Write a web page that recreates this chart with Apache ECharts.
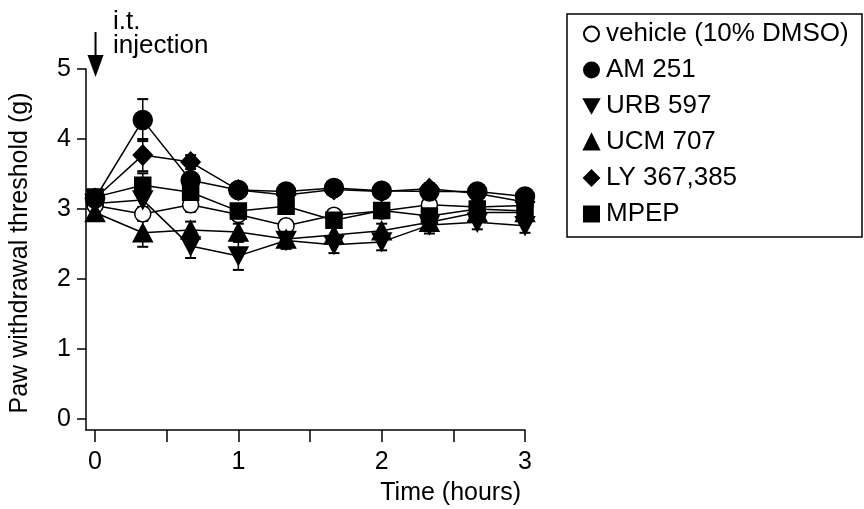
<!DOCTYPE html>
<html>
<head>
<meta charset="utf-8">
<script src="https://cdn.jsdelivr.net/npm/echarts@6/dist/echarts.min.js"></script>
<style>
html,body{margin:0;padding:0;background:#fff;}
#chart{width:864px;height:509px;}
</style>
</head>
<body>
<div id="chart"></div>
<script>
// ---- data ----
const times = [0, 0.333, 0.667, 1, 1.333, 1.667, 2, 2.333, 2.667, 3];
const seriesNames = ['vehicle (10% DMSO)', 'AM 251', 'URB 597', 'UCM 707', 'LY 367,385', 'MPEP'];
const vehicle = [3.05, 2.93, 3.06, 2.92, 2.76, 2.91, 2.97, 3.06, 3.03, 3.05];
const am251   = [3.15, 4.27, 3.41, 3.27, 3.25, 3.30, 3.26, 3.25, 3.25, 3.18];
const urb597  = [3.08, 3.13, 2.47, 2.33, 2.55, 2.49, 2.53, 2.77, 2.81, 2.76];
const ucm707  = [2.95, 2.66, 2.70, 2.67, 2.57, 2.63, 2.69, 2.81, 2.95, 2.95];
const ly      = [3.15, 3.77, 3.67, 3.27, 3.20, 3.28, 3.25, 3.29, 3.22, 3.10];
const mpep    = [3.17, 3.34, 3.24, 2.97, 3.04, 2.84, 2.98, 2.90, 3.00, 2.97];
const vehicleErr = [0.08, 0.10, 0.10, 0.08, 0.08, 0.08, 0.08, 0.10, 0.08, 0.08];
const am251Err   = [0.08, 0.30, 0.10, 0.08, 0.08, 0.08, 0.08, 0.08, 0.08, 0.08];
const urb597Err  = [0.08, 0.12, 0.17, 0.20, 0.12, 0.12, 0.12, 0.12, 0.10, 0.10];
const ucm707Err  = [0.08, 0.20, 0.12, 0.12, 0.12, 0.10, 0.10, 0.10, 0.08, 0.08];
const lyErr      = [0.08, 0.23, 0.10, 0.08, 0.08, 0.08, 0.08, 0.08, 0.08, 0.08];
const mpepErr    = [0.08, 0.17, 0.10, 0.08, 0.08, 0.08, 0.08, 0.08, 0.08, 0.08];
const xTicks = [0, 0.5, 1, 1.5, 2, 2.5, 3];
const xLabels = [0, 1, 2, 3];
const yTicks = [0, 1, 2, 3, 4, 5];
const xTitle = 'Time (hours)';
const yTitle = 'Paw withdrawal threshold (g)';
const noteLines = ['i.t.', 'injection'];

// ---- styling ----
const FONT = '"Liberation Sans", Arial, Helvetica, sans-serif';
const FS = 25;
const downTri = 'path://M0,0L20,0L10,18Z';
const styles = [
  {symbol: 'circle', size: 16, legendIcon: 'circle', fill: '#fff'},
  {symbol: 'circle', size: 19, legendIcon: 'circle', fill: '#000'},
  {symbol: downTri, size: [19, 18], legendIcon: downTri, fill: '#000'},
  {symbol: 'triangle', size: [19, 18], legendIcon: 'triangle', fill: '#000'},
  {symbol: 'diamond', size: [19, 20], legendIcon: 'diamond', fill: '#000'},
  {symbol: 'rect', size: 16, legendIcon: 'rect', fill: '#000'}
];
const values = [vehicle, am251, urb597, ucm707, ly, mpep];
const errs = [vehicleErr, am251Err, urb597Err, ucm707Err, lyErr, mpepErr];

const series = [];
values.forEach((vals, i) => {
  series.push({
    type: 'custom',
    name: seriesNames[i] + ' SEM',
    z: 1,
    silent: true,
    encode: {x: 0, y: [1, 2]},
    data: times.map((t, k) => [t, vals[k] - errs[i][k], vals[k] + errs[i][k]]),
    renderItem: function (params, api) {
      const x = api.value(0);
      const p1 = api.coord([x, api.value(2)]);
      const p2 = api.coord([x, api.value(1)]);
      const w = 5.5;
      return {type: 'group', children: [
        {type: 'line', shape: {x1: p1[0], y1: p1[1], x2: p2[0], y2: p2[1]}, style: {stroke: '#000', lineWidth: 1.5}},
        {type: 'line', shape: {x1: p1[0] - w, y1: p1[1], x2: p1[0] + w, y2: p1[1]}, style: {stroke: '#000', lineWidth: 2}},
        {type: 'line', shape: {x1: p2[0] - w, y1: p2[1], x2: p2[0] + w, y2: p2[1]}, style: {stroke: '#000', lineWidth: 2}}
      ]};
    }
  });
});
values.forEach((vals, i) => {
  const s = styles[i];
  series.push({
    type: 'line',
    name: seriesNames[i],
    z: 3 + i,
    data: times.map((t, k) => [t, vals[k]]),
    symbol: s.symbol,
    symbolSize: s.size,
    showAllSymbol: true,
    lineStyle: {color: '#000', width: 1.5},
    itemStyle: {color: s.fill, borderColor: '#000', borderWidth: 1.5},
    emphasis: {disabled: true}
  });
});

const chart = echarts.init(document.getElementById('chart'), null, {renderer: 'canvas'});
chart.setOption({
  animation: false,
  backgroundColor: '#fff',
  textStyle: {fontFamily: FONT},
  grid: {left: 86, right: 339, top: 69, bottom: 79, containLabel: false},
  xAxis: {
    type: 'value', min: -0.063, max: 3,
    axisLine: {show: true, onZero: false, lineStyle: {color: '#000', width: 1.5}},
    axisTick: {show: true, customValues: xTicks, length: 12, lineStyle: {color: '#000', width: 1.5}},
    axisLabel: {customValues: xLabels, margin: 20, color: '#000', fontSize: FS, fontFamily: FONT},
    splitLine: {show: false}
  },
  yAxis: {
    type: 'value', min: -0.157, max: 5,
    axisLine: {show: true, onZero: false, lineStyle: {color: '#000', width: 1.5}},
    axisTick: {show: true, customValues: yTicks, length: 9, lineStyle: {color: '#000', width: 1.5}},
    axisLabel: {customValues: yTicks, margin: 15, color: '#000', fontSize: FS, fontFamily: FONT},
    splitLine: {show: false}
  },
  legend: {
    orient: 'vertical', left: 578, top: 16,
    itemWidth: 15, itemHeight: 15, itemGap: 10,
    selectedMode: false,
    textStyle: {fontSize: 26, color: '#000', fontFamily: FONT, lineHeight: 26, padding: [0, 0, 0, 2]},
    data: seriesNames.map((n, i) => ({name: n, icon: styles[i].legendIcon}))
  },
  series: series
});

// annotations placed from data coordinates
const p0 = chart.convertToPixel({gridIndex: 0}, [0, 5]);
const ax = p0[0] + 0.5;
chart.setOption({
  graphic: [
    {type: 'rect', shape: {x: 567, y: 14, width: 295, height: 223}, style: {fill: 'none', stroke: '#000', lineWidth: 1.5}, z: 0},
    {type: 'line', shape: {x1: ax, y1: 32, x2: ax, y2: 58}, style: {stroke: '#000', lineWidth: 2}},
    {type: 'polygon', shape: {points: [[ax - 8, 55], [ax + 8, 55], [ax, 77]]}, style: {fill: '#000'}},
    {type: 'text', x: 113, y: 22, style: {text: noteLines[0], font: '26px ' + FONT, fill: '#000', verticalAlign: 'middle'}},
    {type: 'text', x: 113, y: 46, style: {text: noteLines[1], font: '26px ' + FONT, fill: '#000', verticalAlign: 'middle'}},
    {type: 'text', x: 20, y: 253, rotation: Math.PI / 2, style: {text: yTitle, font: FS + 'px ' + FONT, fill: '#000', align: 'center', verticalAlign: 'middle'}},
    {type: 'text', x: 521, y: 493, style: {text: xTitle, font: FS + 'px ' + FONT, fill: '#000', align: 'right', verticalAlign: 'middle'}}
  ]
});
</script>
</body>
</html>
